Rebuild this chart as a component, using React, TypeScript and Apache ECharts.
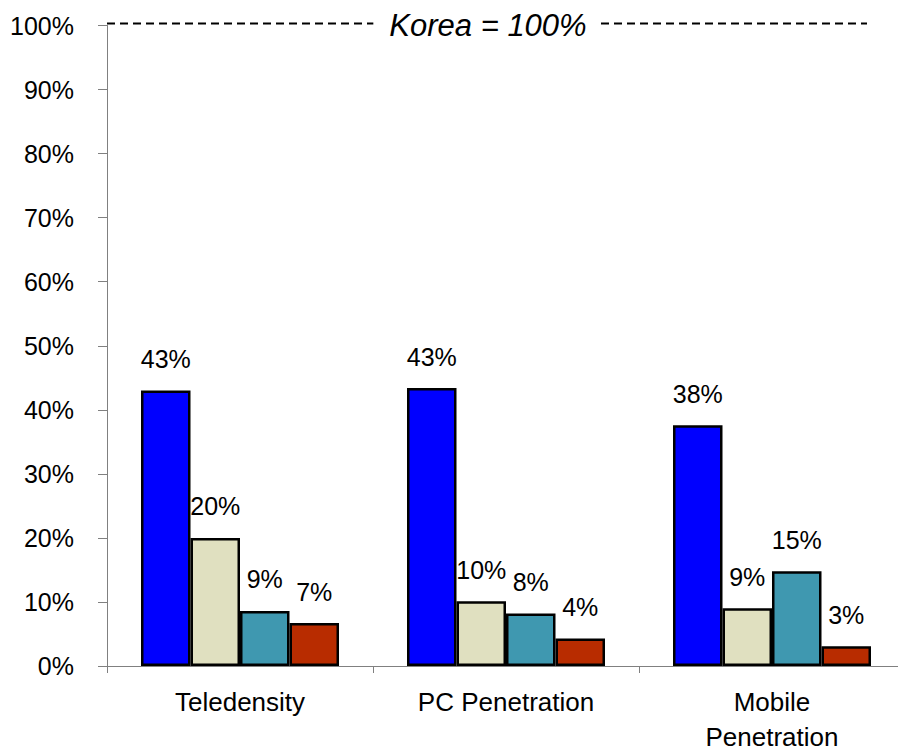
import React, { useEffect, useRef } from "react";
import * as echarts from "echarts";

// ---- data ----
const categories = ["Teledensity", "PC Penetration", "Mobile\nPenetration"];
const seriesNames = ["Series 1", "Series 2", "Series 3", "Series 4"];
const series1 = [43.0, 43.4, 37.6];
const series2 = [20.0, 10.1, 9.0];
const series3 = [8.6, 8.2, 14.8];
const series4 = [6.7, 4.3, 3.1];
const seriesColors = ["#0000FF", "#E0E0C0", "#3F98B0", "#B82C00"];
const yMin = 0;
const yMax = 100;
const yInterval = 10;
const referenceValue = 100;
const referenceLabel = "Korea = 100%";

const FONT = "'Liberation Sans', Arial, Helvetica, sans-serif";

export default function App() {
  const ref = useRef<HTMLDivElement>(null);

  useEffect(() => {
    if (!ref.current) return;
    const chart = echarts.init(ref.current, undefined, { renderer: "svg" });
    const allSeries = [series1, series2, series3, series4];
    const gridLeft = 107;
    const option: any = {
      animation: false,
      backgroundColor: "#ffffff",
      grid: {
        left: gridLeft,
        top: 25.5,
        width: 798,
        bottom: 87,
        containLabel: false,
        outerBoundsMode: "none",
      },
      xAxis: {
        type: "category",
        data: categories,
        axisLine: { show: true, lineStyle: { color: "#808080", width: 1 } },
        axisTick: { show: true, length: 7, lineStyle: { color: "#808080" } },
        axisLabel: {
          color: "#000",
          fontFamily: FONT,
          fontSize: 26,
          lineHeight: 35,
          margin: 18,
          interval: 0,
        },
      },
      yAxis: {
        type: "value",
        min: yMin,
        max: yMax,
        interval: yInterval,
        axisLine: { show: true, lineStyle: { color: "#808080", width: 1 } },
        axisTick: { show: true, length: 9, lineStyle: { color: "#808080" } },
        splitLine: { show: false },
        axisLabel: {
          color: "#000",
          fontFamily: FONT,
          fontSize: 25,
          margin: 33,
          formatter: "{value}%",
        },
      },
      series: allSeries.map((d, i) => ({
        name: seriesNames[i],
        type: "bar",
        data: d,
        barWidth: 49.5,
        barGap: "0%",
        itemStyle: { color: seriesColors[i], borderColor: "#000", borderWidth: 2.5 },
        label: {
          show: true,
          position: "top",
          distance: 19,
          color: "#000",
          fontFamily: FONT,
          fontSize: 25,
          formatter: (p: any) => Math.round(p.value) + "%",
        },
      })),
    };
    chart.setOption(option);

    const yRef = chart.convertToPixel({ yAxisIndex: 0 }, referenceValue) as number;
    chart.setOption({
      graphic: [
        {
          type: "line",
          z: 100,
          shape: { x1: gridLeft, y1: yRef - 2, x2: 867, y2: yRef - 2 },
          style: { stroke: "#000", lineWidth: 2, lineDash: [8, 5] },
        },
        {
          type: "text",
          z: 101,
          x: 486,
          y: yRef,
          style: {
            text: referenceLabel,
            fontFamily: FONT,
            fontStyle: "italic",
            fontSize: 31,
            fill: "#000",
            align: "center",
            verticalAlign: "middle",
            backgroundColor: "#ffffff",
            padding: [2, 12, 2, 16],
          },
        },
      ],
    });

    return () => chart.dispose();
  }, []);

  return (
    <div
      ref={ref}
      style={{ position: "absolute", left: 0, top: 0, width: 898, height: 753 }}
    />
  );
}
